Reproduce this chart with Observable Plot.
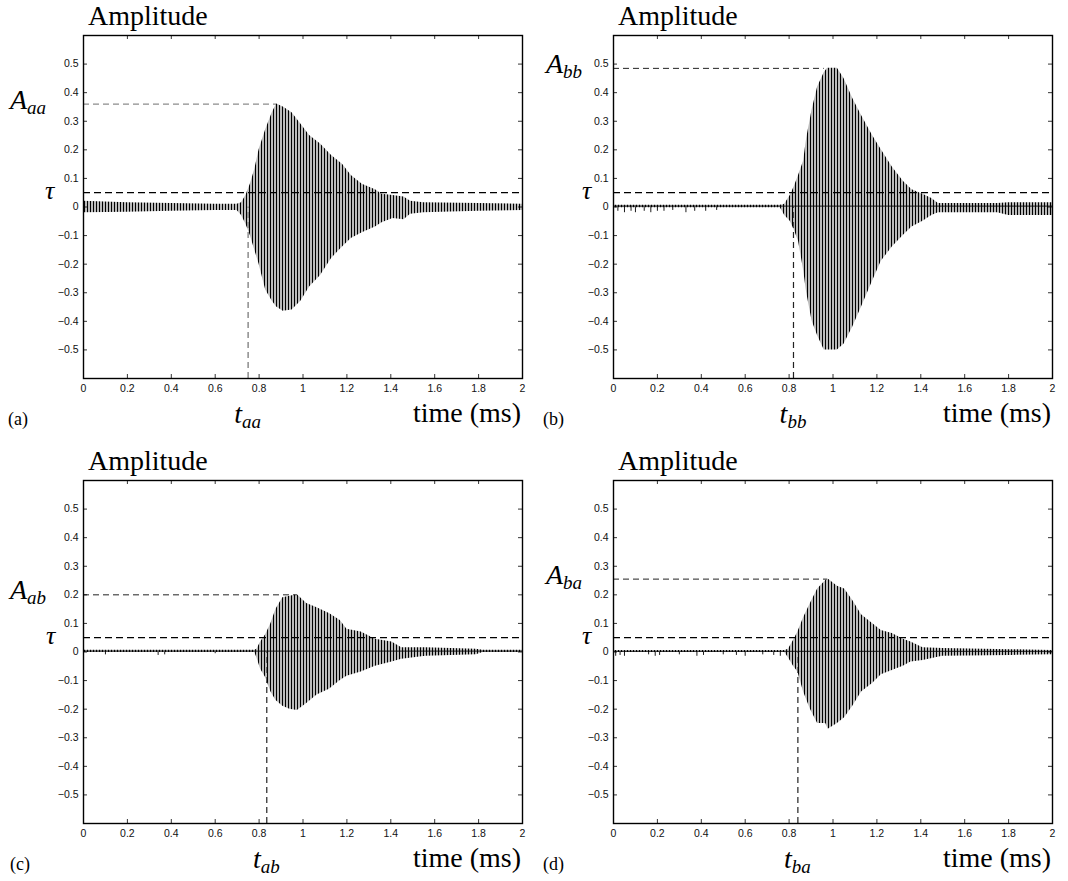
<!DOCTYPE html>
<html><head><meta charset="utf-8">
<script src="https://cdn.jsdelivr.net/npm/d3@7"></script>
<script src="https://cdn.jsdelivr.net/npm/@observablehq/plot@0.6"></script>
<style>
body{margin:0;background:#fff}
#root{position:relative;width:1068px;height:881px;overflow:hidden;background:#fff}
.panel{position:absolute}
</style></head><body>
<svg width="0" height="0" style="position:absolute"><defs>
<pattern id="wave" patternUnits="userSpaceOnUse" width="3" height="6">
<rect x="0" y="0" width="1.1" height="6" fill="#000"/>
<rect x="1.6" y="0" width="0.9" height="6" fill="#7a7a7a"/>
</pattern></defs></svg>
<div id="root"></div>
<script>
// axis ticks
const xTicks = [0, 0.2, 0.4, 0.6, 0.8, 1, 1.2, 1.4, 1.6, 1.8, 2];
const yTicks = [-0.5, -0.4, -0.3, -0.2, -0.1, 0, 0.1, 0.2, 0.3, 0.4, 0.5];
const tau = 0.05;

// (a) envelope of the received signal
const timeA  = [0, 0.2, 0.4, 0.6, 0.7, 0.72, 0.74, 0.76, 0.78, 0.8, 0.83, 0.86, 0.88, 0.91, 0.95, 0.99, 1.03, 1.08, 1.13, 1.18, 1.22, 1.27, 1.33, 1.36, 1.41, 1.46, 1.49, 1.55, 1.8, 2];
const upperA = [0.02, 0.015, 0.012, 0.01, 0.01, 0.015, 0.04, 0.08, 0.13, 0.2, 0.27, 0.33, 0.36, 0.35, 0.33, 0.29, 0.25, 0.22, 0.18, 0.15, 0.11, 0.08, 0.06, 0.045, 0.04, 0.035, 0.02, 0.015, 0.012, 0.01];
const lowerA = [-0.02, -0.018, -0.015, -0.012, -0.012, -0.03, -0.06, -0.1, -0.15, -0.2, -0.29, -0.33, -0.35, -0.365, -0.36, -0.33, -0.28, -0.24, -0.18, -0.14, -0.11, -0.09, -0.07, -0.055, -0.04, -0.045, -0.025, -0.02, -0.015, -0.012];
const onsetA = 0.75, peakTimeA = 0.88, peakA = 0.36;

// (b)
const timeB  = [0, 0.76, 0.78, 0.805, 0.823, 0.843, 0.866, 0.88, 0.905, 0.93, 0.96, 0.975, 1.02, 1.05, 1.09, 1.13, 1.18, 1.22, 1.27, 1.32, 1.36, 1.41, 1.45, 1.48, 1.75, 1.8, 2];
const upperB = [0.006, 0.006, 0.01, 0.04, 0.07, 0.11, 0.16, 0.24, 0.34, 0.42, 0.47, 0.485, 0.485, 0.45, 0.38, 0.32, 0.25, 0.2, 0.14, 0.09, 0.06, 0.045, 0.03, 0.012, 0.012, 0.015, 0.015];
const lowerB = [-0.003, -0.003, -0.03, -0.05, -0.08, -0.12, -0.22, -0.3, -0.4, -0.45, -0.5, -0.5, -0.5, -0.48, -0.42, -0.35, -0.26, -0.19, -0.14, -0.1, -0.07, -0.05, -0.03, -0.02, -0.02, -0.03, -0.03];
const onsetB = 0.82, peakTimeB = 0.96, peakB = 0.485, baseB = 0.003;
const spikeTimeB  = [0.02, 0.05, 0.08, 0.1, 0.14, 0.17, 0.2, 0.23, 0.27, 0.33, 0.37, 0.42, 0.47];
const spikeDepthB = [-0.015, -0.02, -0.015, -0.02, -0.015, -0.02, -0.015, -0.015, -0.012, -0.02, -0.015, -0.015, -0.012];

// (c)
const timeC  = [0, 0.78, 0.79, 0.807, 0.83, 0.854, 0.877, 0.908, 0.94, 0.974, 1.017, 1.064, 1.12, 1.17, 1.2, 1.265, 1.33, 1.405, 1.45, 1.56, 1.79, 1.82, 2];
const upperC = [0.006, 0.006, 0.01, 0.035, 0.06, 0.1, 0.15, 0.19, 0.195, 0.2, 0.17, 0.155, 0.135, 0.11, 0.08, 0.07, 0.045, 0.035, 0.015, 0.015, 0.01, 0.006, 0.006];
const lowerC = [-0.002, -0.002, -0.02, -0.06, -0.09, -0.14, -0.17, -0.19, -0.2, -0.205, -0.18, -0.15, -0.13, -0.1, -0.085, -0.07, -0.05, -0.035, -0.025, -0.015, -0.01, -0.002, -0.002];
const onsetC = 0.835, peakTimeC = 0.975, peakC = 0.2, baseC = 0.003;
const spikeTimeC  = [0.1, 0.34, 0.37, 0.6];
const spikeDepthC = [-0.01, -0.012, -0.01, -0.006];

// (d)
const timeD  = [0, 0.78, 0.797, 0.82, 0.84, 0.866, 0.897, 0.93, 0.967, 0.978, 1.02, 1.053, 1.09, 1.13, 1.18, 1.22, 1.27, 1.32, 1.355, 1.41, 1.5, 1.81, 2];
const upperD = [0.005, 0.005, 0.01, 0.04, 0.07, 0.12, 0.17, 0.22, 0.25, 0.255, 0.23, 0.22, 0.18, 0.13, 0.1, 0.075, 0.065, 0.045, 0.035, 0.015, 0.012, 0.008, 0.005];
const lowerD = [-0.002, -0.002, -0.02, -0.05, -0.07, -0.14, -0.2, -0.25, -0.25, -0.27, -0.25, -0.23, -0.19, -0.14, -0.11, -0.08, -0.065, -0.05, -0.035, -0.03, -0.015, -0.012, -0.01];
const onsetD = 0.84, peakTimeD = 0.975, peakD = 0.255, baseD = 0.002;
const spikeTimeD  = [0.01, 0.03, 0.05, 0.16, 0.19, 0.21, 0.3, 0.38, 0.41, 0.5, 0.56, 0.6, 0.68, 0.73, 0.76];
const spikeDepthD = [-0.015, -0.012, -0.015, -0.01, -0.015, -0.012, -0.01, -0.015, -0.012, -0.01, -0.012, -0.015, -0.01, -0.012, -0.015];

const panels = [
  {tag: "(a)", sub: "aa", time: timeA, upper: upperA, lower: lowerA, onset: onsetA, peakTime: peakTimeA, peak: peakA, base: null, spikeT: [], spikeV: [],
   left: 0, top: 0, h: 440, ml: 83, mr: 12, mt: 35, mb: 62, guide: "#8c8c8c", guideW: 1.3, tauDx: -38, aDx: -73, tagDx: -75},
  {tag: "(b)", sub: "bb", time: timeB, upper: upperB, lower: lowerB, onset: onsetB, peakTime: peakTimeB, peak: peakB, base: baseB, spikeT: spikeTimeB, spikeV: spikeDepthB,
   left: 534, top: 0, h: 440, ml: 79, mr: 16, mt: 35, mb: 62, guide: "#222", guideW: 1, tauDx: -31, aDx: -67, tagDx: -70},
  {tag: "(c)", sub: "ab", time: timeC, upper: upperC, lower: lowerC, onset: onsetC, peakTime: peakTimeC, peak: peakC, base: baseC, spikeT: spikeTimeC, spikeV: spikeDepthC,
   left: 0, top: 440, h: 441, ml: 83, mr: 12, mt: 40, mb: 58, guide: "#222", guideW: 1, tauDx: -37, aDx: -73, tagDx: -73},
  {tag: "(d)", sub: "ba", time: timeD, upper: upperD, lower: lowerD, onset: onsetD, peakTime: peakTimeD, peak: peakD, base: baseD, spikeT: spikeTimeD, spikeV: spikeDepthD,
   left: 534, top: 440, h: 441, ml: 79, mr: 16, mt: 40, mb: 58, guide: "#222", guideW: 1, tauDx: -31, aDx: -67, tagDx: -70}
];

const SERIF = "'Liberation Serif','Times New Roman',serif";
const root = document.getElementById("root");
const fmt = d3.format("~g");

for (const p of panels) {
  const W = 534;
  const plotH = p.h - p.mt - p.mb;
  const plotW = W - p.ml - p.mr;
  const env = p.time.map((t, i) => ({t, hi: p.upper[i], lo: p.lower[i]}));
  const spikes = p.spikeT.map((t, i) => ({t, v: p.spikeV[i]}));
  const marks = [
    Plot.ruleX([p.onset], {y1: -0.6, y2: 0, stroke: p.guide, strokeWidth: p.guideW + 0.2, strokeDasharray: "6,4"}),
    Plot.ruleY([p.peak], {x1: 0, x2: p.peakTime, stroke: p.guide, strokeWidth: p.guideW, strokeDasharray: "6,4"}),
  ];
  if (p.base !== null) {
    marks.push(Plot.ruleY([p.base], {x1: 0, x2: 2, stroke: "#000", strokeWidth: 1.2}));
    marks.push(Plot.ruleX(spikes, {x: "t", y1: p.base, y2: "v", stroke: "#000", strokeWidth: 0.9}));
  }
  marks.push(
    Plot.areaY(env, {x: "t", y1: "lo", y2: "hi", fill: "url(#wave)"}),
    Plot.ruleY([tau], {x1: 0, x2: 2, stroke: "#000", strokeWidth: 1.2, strokeDasharray: "7,4"}),
    Plot.frame({stroke: "#000", strokeWidth: 1.4}),
    Plot.tickX(xTicks.slice(1, -1), {x: d => d, insetTop: plotH - 4, stroke: "#000", strokeWidth: 0.8}),
    Plot.tickX(xTicks.slice(1, -1), {x: d => d, insetBottom: plotH - 4, stroke: "#000", strokeWidth: 0.8}),
    Plot.tickY(yTicks, {y: d => d, insetRight: plotW - 4, stroke: "#000", strokeWidth: 0.8}),
    Plot.tickY(yTicks, {y: d => d, insetLeft: plotW - 4, stroke: "#000", strokeWidth: 0.8}),
    Plot.axisX(xTicks, {tickSize: 0, tickPadding: 6, tickFormat: fmt, label: null}),
    Plot.axisY(yTicks, {tickSize: 0, tickPadding: 5, tickFormat: fmt, label: null})
  );
  const plot = Plot.plot({
    width: W, height: p.h,
    marginLeft: p.ml, marginRight: p.mr, marginTop: p.mt, marginBottom: p.mb,
    x: {domain: [0, 2], label: null},
    y: {domain: [-0.6, 0.6], label: null},
    style: {fontFamily: "'Liberation Sans', Arial, sans-serif", fontSize: "10.5px", color: "#111", background: "transparent", overflow: "visible"},
    marks
  });
  const div = document.createElement("div");
  div.className = "panel";
  div.style.left = p.left + "px";
  div.style.top = p.top + "px";
  div.appendChild(plot);
  root.appendChild(div);

  const sx = plot.scale("x"), sy = plot.scale("y");
  const FL = sx.apply(0), FR = sx.apply(2), FB = sy.apply(-0.6), FT = sy.apply(0.6);
  const svg = d3.select(plot);
  const txt = (x, y, anchor) => svg.append("text").attr("x", x).attr("y", y).attr("text-anchor", anchor)
      .style("font-family", SERIF).attr("fill", "#000").attr("stroke", "none");

  // title
  txt(FL + 5, FT - 10, "start").style("font-size", "28px").text("Amplitude");
  // x axis label
  txt(FR - 1, FB + 44, "end").style("font-size", "28px").text("time (ms)");
  // panel tag
  txt(FL + p.tagDx, FB + 47, "start").style("font-size", "18px").text(p.tag);
  // A label
  const a = txt(FL + p.aDx, sy.apply(p.peak) + 5, "start");
  a.append("tspan").style("font-size", "28px").style("font-style", "italic").text("A");
  a.append("tspan").style("font-size", "19px").style("font-style", "italic").attr("dy", 5).text(p.sub);
  // tau label
  txt(FL + p.tauDx, sy.apply(tau) + 7, "start").style("font-size", "26px").style("font-style", "italic").text("τ");
  // t label
  const t = txt(sx.apply(p.onset), FB + 45, "middle");
  t.append("tspan").style("font-size", "28px").style("font-style", "italic").text("t");
  t.append("tspan").style("font-size", "19px").style("font-style", "italic").attr("dy", 5).text(p.sub);
}
</script>
</body></html>
